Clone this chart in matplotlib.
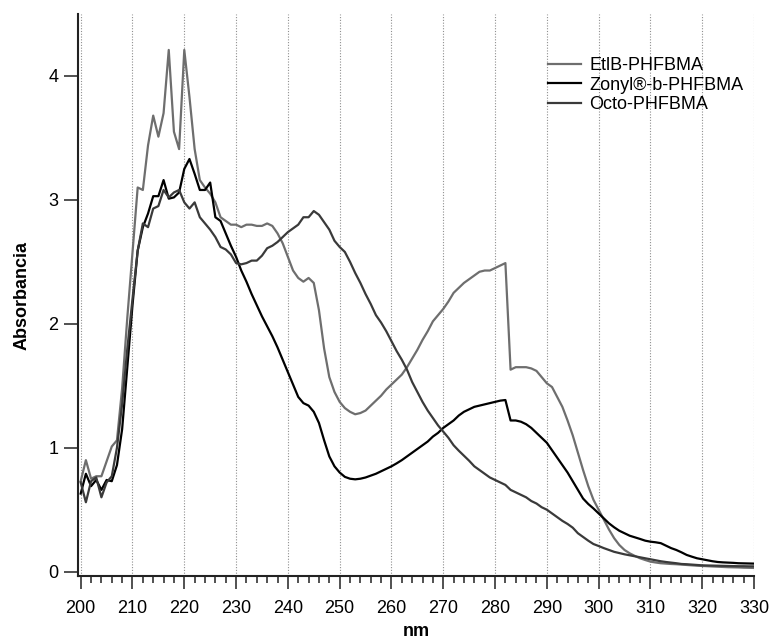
import matplotlib
matplotlib.use('Agg')
import matplotlib.pyplot as plt
from matplotlib.ticker import MultipleLocator

plt.rcParams['font.family'] = ['Liberation Sans', 'DejaVu Sans']

wavelength = list(range(200, 331))

etlb = [0.73, 0.90, 0.75, 0.77, 0.77, 0.89, 1.01, 1.06, 1.48, 2.05,
        2.58, 3.10, 3.08, 3.44, 3.68, 3.51, 3.70, 4.21, 3.55, 3.41,
        4.21, 3.83, 3.41, 3.16, 3.10, 3.05, 2.98, 2.86, 2.83, 2.80,
        2.80, 2.78, 2.80, 2.80, 2.79, 2.79, 2.81, 2.79, 2.73, 2.65,
        2.54, 2.43, 2.37, 2.34, 2.37, 2.33, 2.11, 1.80, 1.57, 1.45,
        1.37, 1.32, 1.29, 1.27, 1.28, 1.30, 1.34, 1.38, 1.42, 1.47,
        1.51, 1.55, 1.59, 1.65, 1.72, 1.79, 1.87, 1.94, 2.02, 2.07,
        2.12, 2.18, 2.25, 2.29, 2.33, 2.36, 2.39, 2.42, 2.43, 2.43,
        2.45, 2.47, 2.49, 1.63, 1.65, 1.65, 1.65, 1.64, 1.62, 1.57,
        1.52, 1.49, 1.41, 1.33, 1.22, 1.10, 0.96, 0.82, 0.69, 0.58,
        0.50, 0.42, 0.34, 0.27, 0.215, 0.175, 0.148, 0.127, 0.108, 0.094,
        0.081, 0.074, 0.068, 0.065, 0.062, 0.060, 0.057, 0.054, 0.051, 0.048,
        0.046, 0.044, 0.042, 0.040, 0.038, 0.036, 0.035, 0.034, 0.032, 0.031,
        0.030]

zonyl = [0.63, 0.79, 0.69, 0.74, 0.66, 0.74, 0.73, 0.86, 1.15, 1.65,
         2.15, 2.59, 2.78, 2.89, 3.03, 3.03, 3.16, 3.01, 3.02, 3.06,
         3.25, 3.33, 3.21, 3.08, 3.08, 3.14, 2.86, 2.83, 2.73, 2.63,
         2.54, 2.43, 2.34, 2.24, 2.15, 2.06, 1.98, 1.90, 1.81, 1.71,
         1.61, 1.51, 1.41, 1.36, 1.34, 1.29, 1.20, 1.06, 0.93, 0.85,
         0.80, 0.765, 0.75, 0.745, 0.75, 0.76, 0.775, 0.79, 0.81, 0.83,
         0.85, 0.874, 0.90, 0.93, 0.96, 0.99, 1.02, 1.05, 1.09, 1.12,
         1.16, 1.19, 1.22, 1.26, 1.29, 1.31, 1.33, 1.34, 1.35, 1.36,
         1.37, 1.38, 1.385, 1.22, 1.22, 1.21, 1.19, 1.16, 1.12, 1.08,
         1.04, 0.98, 0.92, 0.86, 0.80, 0.73, 0.66, 0.59, 0.546, 0.51,
         0.47, 0.43, 0.39, 0.358, 0.33, 0.31, 0.29, 0.277, 0.264, 0.25,
         0.242, 0.237, 0.23, 0.21, 0.19, 0.175, 0.156, 0.135, 0.121, 0.108,
         0.100, 0.092, 0.084, 0.078, 0.075, 0.073, 0.071, 0.068, 0.067, 0.066,
         0.065]

octo = [0.72, 0.56, 0.73, 0.76, 0.60, 0.72, 0.77, 1.00, 1.35, 1.80,
        2.20, 2.59, 2.81, 2.78, 2.93, 2.95, 3.08, 3.02, 3.06, 3.08,
        2.98, 2.93, 2.98, 2.86, 2.81, 2.76, 2.70, 2.62, 2.60, 2.56,
        2.49, 2.48, 2.49, 2.51, 2.51, 2.55, 2.61, 2.63, 2.66, 2.70,
        2.74, 2.77, 2.80, 2.86, 2.86, 2.91, 2.88, 2.82, 2.76, 2.67,
        2.62, 2.58, 2.50, 2.41, 2.33, 2.24, 2.16, 2.07, 2.01, 1.94,
        1.86, 1.78, 1.71, 1.63, 1.53, 1.45, 1.37, 1.30, 1.24, 1.18,
        1.13, 1.08, 1.02, 0.976, 0.935, 0.895, 0.85, 0.82, 0.79, 0.76,
        0.74, 0.72, 0.70, 0.66, 0.64, 0.62, 0.60, 0.57, 0.55, 0.52,
        0.50, 0.47, 0.44, 0.41, 0.385, 0.355, 0.31, 0.28, 0.25, 0.223,
        0.207, 0.19, 0.175, 0.16, 0.15, 0.14, 0.132, 0.124, 0.116, 0.108,
        0.100, 0.092, 0.084, 0.078, 0.073, 0.068, 0.062, 0.060, 0.057, 0.054,
        0.051, 0.050, 0.049, 0.048, 0.047, 0.046, 0.045, 0.044, 0.044, 0.043,
        0.043]

series_labels = ['EtlB-PHFBMA', 'Zonyl®-b-PHFBMA', 'Octo-PHFBMA']
series_colors = ['#6e6e6e', '#000000', '#3a3a3a']

W, H = 772, 641
fig = plt.figure(figsize=(W / 100, H / 100), dpi=100)
ax = fig.add_axes([77.7 / W, (H - 576) / H, (754 - 77.7) / W, (576 - 14) / H])

for ys, lab, col in zip([etlb, zonyl, octo], series_labels, series_colors):
    ax.plot(wavelength, ys, color=col, lw=1.6, label=lab, zorder=3)

ax.set_xlim(199.42, 330)
ax.set_ylim(-0.035, 4.5)

ax.xaxis.set_major_locator(MultipleLocator(10))
ax.xaxis.set_minor_locator(MultipleLocator(2))
ax.yaxis.set_major_locator(MultipleLocator(1))

ax.xaxis.grid(True, which='major', linestyle=(0, (1, 1.5)), color='#8f8f8f',
              linewidth=0.8, zorder=1)
ax.set_axisbelow(True)

for side in ['top', 'right']:
    ax.spines[side].set_visible(False)
for side in ['left', 'bottom']:
    ax.spines[side].set_linewidth(1.5)
    ax.spines[side].set_color('#222222')

ax.tick_params(axis='y', which='major', direction='out', length=10, width=1.1,
               labelsize=13, pad=4, color='#222222')
ax.tick_params(axis='x', which='major', direction='out', length=9.5, width=1.1,
               labelsize=13, pad=8, color='#222222')
ax.tick_params(axis='x', which='minor', direction='out', length=5, width=1.1,
               color='#222222')

ax.set_xlabel('nm', fontsize=13, fontweight='bold', labelpad=4)
ax.set_ylabel('Absorbancia', fontsize=13, fontweight='bold', labelpad=13)

ax.legend(loc='upper left', bbox_to_anchor=(548 / W, 1 - 57 / H),
          bbox_transform=fig.transFigure, frameon=False, fontsize=13,
          handlelength=1.8, handletextpad=0.5, labelspacing=0.15,
          borderpad=0, borderaxespad=0)

fig.savefig('out.png', dpi=100)
